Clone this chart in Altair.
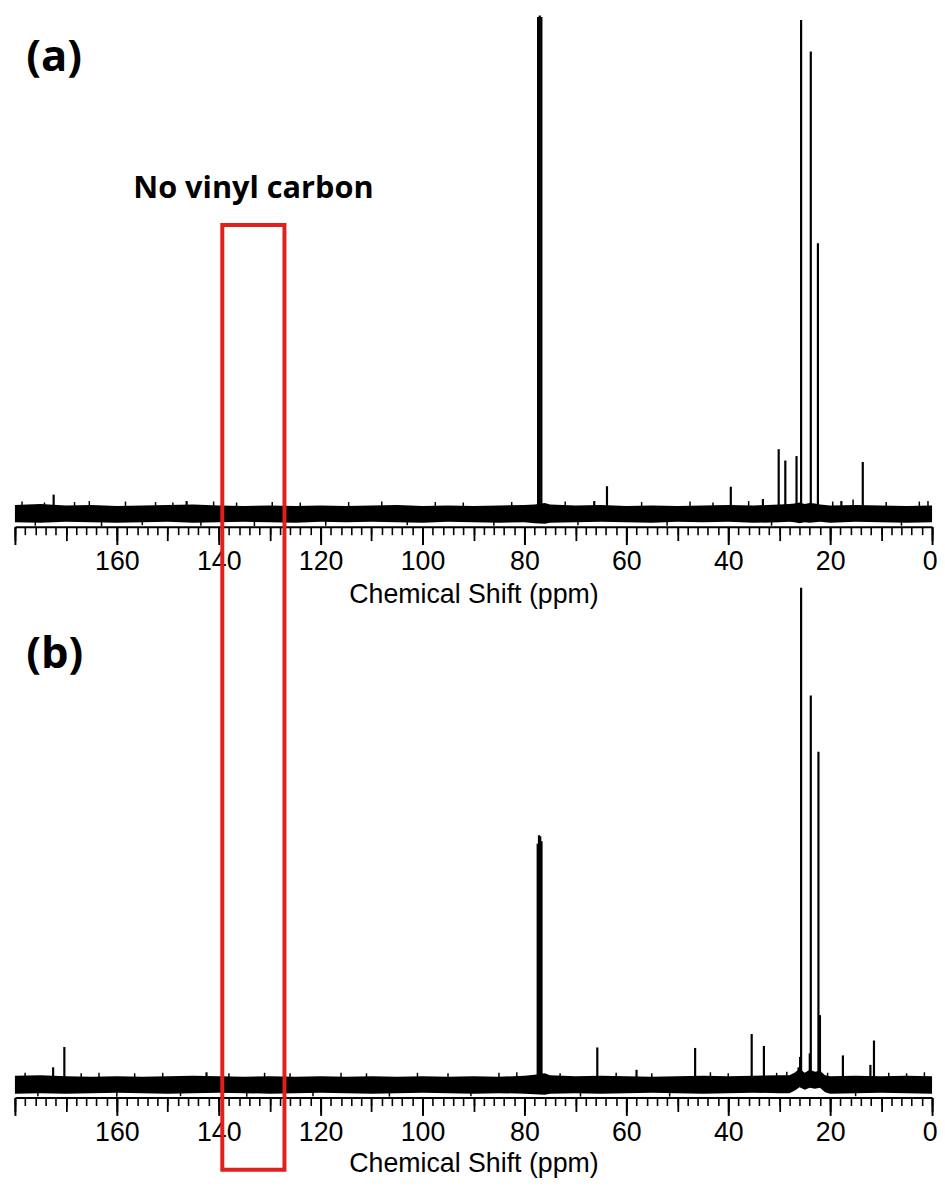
import altair as alt
import pandas as pd

# ---------------- axis ticks (ppm) ----------------
major_ticks = list(range(0, 181, 20))
mid_ticks = list(range(0, 181, 10))
minor_ticks = list(range(0, 181, 2))

# ---------------- baseline noise envelope ----------------
env_ppm = [180, 175, 170, 165, 160, 155, 150, 145, 140, 135, 130, 125, 120, 115, 110,
           105, 100, 95, 90, 85, 80, 78, 76, 75, 70, 65, 60, 55, 50, 45, 40, 35, 30,
           28, 27, 26, 25, 24, 23, 22, 21, 20, 15, 10, 5, 0]
a_upper = [1.8, 2.0, 1.7, 1.8, 1.6, 1.7, 1.8, 1.9, 1.7, 1.6, 1.7, 1.6, 1.7, 1.6, 1.7,
           1.8, 1.6, 1.7, 1.6, 1.7, 1.8, 1.9, 2.2, 1.9, 1.7, 1.8, 1.6, 1.7, 1.6, 1.7, 1.8, 1.7, 1.9,
           2.0, 2.1, 2.3, 2.0, 2.2, 2.1, 1.9, 1.8, 1.7, 1.8, 1.7, 1.6, 1.7]
a_lower = [-1.7, -1.8, -1.6, -1.7, -1.8, -1.7, -1.6, -1.8, -1.7, -1.6, -1.7, -1.8, -1.6, -1.7, -1.6,
           -1.7, -1.8, -1.6, -1.7, -1.8, -1.7, -1.9, -2.0, -1.8, -1.7, -1.6, -1.7, -1.8, -1.6, -1.7, -1.6, -1.8, -1.7,
           -1.6, -1.7, -1.9, -1.7, -1.8, -1.7, -1.6, -1.7, -1.8, -1.6, -1.7, -1.8, -1.7]
b_upper = [1.8, 1.9, 1.7, 1.6, 1.7, 1.6, 1.7, 1.8, 1.7, 1.6, 1.7, 1.6, 1.7, 1.6, 1.7,
           1.6, 1.7, 1.6, 1.7, 1.6, 1.8, 2.0, 2.3, 1.9, 1.7, 1.8, 1.7, 1.6, 1.7, 1.8, 1.7, 1.8, 1.9,
           1.9, 2.4, 3.2, 2.4, 3.0, 2.6, 2.8, 1.9, 1.7, 1.8, 1.7, 1.8, 1.7]
b_lower = [-1.8, -1.7, -1.8, -1.7, -1.6, -1.7, -1.8, -1.7, -1.6, -1.7, -1.8, -1.7, -1.6, -1.7, -1.8,
           -1.7, -1.6, -1.7, -1.8, -1.7, -1.8, -1.9, -2.0, -1.8, -1.7, -1.8, -1.7, -1.6, -1.7, -1.8, -1.7, -1.6, -1.7,
           -1.7, -1.2, -0.5, -1.0, -0.6, -0.8, -0.6, -1.5, -1.8, -1.7, -1.6, -1.7, -1.8]

# ---------------- resolved peaks (ppm, relative intensity) ----------------
peaks_a_ppm = [172.4, 146.3, 77.32, 77.0, 76.68, 66.3, 63.8, 39.5, 33.2, 30.1, 28.8,
               26.6, 25.7, 23.8, 22.4, 17.8, 13.6]
peaks_a_int = [3.9, 2.6, 100.6, 100.9, 100.6, 2.6, 5.6, 5.5, 3.0, 13.1, 10.8,
               11.7, 100.0, 93.6, 54.8, 2.6, 10.5]

peaks_b_ppm = [172.5, 170.3, 142.4, 77.4, 77.15, 76.9, 76.65, 65.7, 58.0, 46.5, 35.4, 33.0,
               26.2, 25.9, 25.7, 24.0, 23.8, 22.3, 22.0, 17.5, 12.1, 11.4]
peaks_b_int = [3.5, 7.6, 2.5, 48.5, 50.2, 50.0, 49.0, 7.5, 3.0, 7.4, 10.2, 7.8,
               3.5, 5.6, 100.0, 6.3, 78.3, 67.0, 14.0, 5.9, 4.0, 8.9]

# ---------------- noise spikes ----------------
spikes_a_ppm = [178.6, 176.0, 174.2, 168.3, 165.4, 163.0, 158.3, 155.0, 152.4, 149.0, 143.5,
                141.0, 136.5, 133.0, 129.5, 124.0, 119.0, 114.5, 108.0, 103.0, 97.5, 92.0,
                86.0, 82.5, 72.0, 69.5, 57.0, 52.0, 47.5, 43.0, 36.0, 31.5, 19.5, 15.5,
                9.0, 6.0, 2.5, 0.8]
spikes_a_int = [2.5, -2.4, 2.3, 2.4, 2.6, -2.5, 2.5, -2.3, 2.4, 2.3, -2.4,
                2.5, 2.3, -2.5, 2.4, 2.3, -2.4, 2.4, 2.5, -2.3, 2.4, 2.3,
                -2.4, 2.4, 2.5, -2.3, 2.4, -2.4, 2.5, 2.3, 2.6, -2.4, 2.5, 2.9,
                2.4, -2.4, 2.5, 2.6]
spikes_b_ppm = [178.0, 175.5, 167.0, 163.5, 160.0, 156.5, 151.0, 147.5, 138.0, 134.5, 131.0,
                126.0, 121.5, 116.0, 111.0, 106.5, 101.0, 95.0, 90.5, 85.0, 81.5, 73.0,
                69.0, 62.0, 55.0, 51.5, 43.5, 40.0, 30.5, 28.5, 20.5, 15.0, 8.5, 5.0, 1.5]
spikes_b_int = [2.4, -2.3, 2.3, 2.4, -2.4, 2.3, 2.4, -2.3, 2.3, -2.4, 2.4,
                2.3, -2.3, 2.4, 2.3, -2.4, 2.4, 2.3, -2.3, 2.4, 2.5, 2.3,
                -2.4, 2.4, 2.3, -2.4, 2.5, 2.3, 2.4, 2.6, 2.4, -2.3, 2.4, 2.3, 2.5]

# ---------------- annotations ----------------
box_ppm = [139.3, 127.1]          # red box edges
box_int_b = [173.0, -17.1]        # red box top / bottom in panel (b) intensity units
note_text = "No vinyl carbon"
note_pos = [133.2, 63.9]
label_a_pos = [177.8, 92.2]
label_b_pos = [177.8, 86.4]

W = 927
H_A = 517
H_B = 522
DOM_A = [-2.6, 100.94]
DOM_B = [-2.59, 101.33]
XDOM = [180, 0]

AXFONT = "Liberation Sans"
BOLD = "Open Sans"


def xs(axis):
    return alt.X("ppm:Q", scale=alt.Scale(domain=XDOM, nice=False, zero=False), axis=axis)


def make_panel(env_up, env_lo, pk_ppm, pk_int, sp_ppm, sp_int, ydom, height, title_y, extra):
    ys = alt.Scale(domain=ydom, nice=False, zero=False)
    noise = pd.DataFrame({"ppm": env_ppm, "up": env_up, "lo": env_lo})
    peaks = pd.DataFrame({"ppm": pk_ppm, "v": pk_int})
    spikes = pd.DataFrame({"ppm": sp_ppm, "v": sp_int})

    minor_axis = alt.Axis(values=minor_ticks, tickSize=8, tickWidth=1.6, tickColor="black",
                          labels=False, domain=True, domainWidth=2, domainColor="black",
                          grid=False, title=None, orient="bottom")
    mid_axis = alt.Axis(values=mid_ticks, tickSize=14, tickWidth=1.8, tickColor="black",
                        labels=False, domain=False, grid=False, title=None, orient="bottom")
    major_axis = alt.Axis(values=major_ticks, tickSize=18, tickWidth=2, tickColor="black",
                          labels=True, labelExpr="datum.value == 180 ? '' : datum.label",
                          labelFont=AXFONT, labelFontSize=27, labelColor="black",
                          labelPadding=4, labelFlush=True, labelFlushOffset=5,
                          labelOverlap=False,
                          domain=False, grid=False, orient="bottom",
                          title="Chemical Shift (ppm)", titleFont=AXFONT, titleFontSize=27,
                          titleFontWeight="normal", titleColor="black", titleY=title_y,
                          titleBaseline="middle")

    band = alt.Chart(noise).mark_area(color="black", interpolate="linear").encode(
        x=xs(minor_axis),
        y=alt.Y("up:Q", scale=ys, axis=None),
        y2="lo:Q",
    )
    lines = alt.Chart(peaks).mark_rule(color="black", strokeWidth=2.2).encode(
        x=xs(mid_axis),
        y=alt.Y("v:Q", scale=ys, axis=None),
        y2=alt.datum(0),
    )
    noise_sp = alt.Chart(spikes).mark_rule(color="black", strokeWidth=1.5).encode(
        x=xs(major_axis),
        y=alt.Y("v:Q", scale=ys, axis=None),
        y2=alt.datum(0),
    )
    layers = [band, lines, noise_sp] + [e(ys) for e in extra]
    return alt.layer(*layers).resolve_axis(x="independent").properties(width=W, height=height)


def label_layer(text, pos, size):
    def f(ys):
        df = pd.DataFrame({"ppm": [pos[0]], "v": [pos[1]], "t": [text]})
        return alt.Chart(df).mark_text(align="left", baseline="middle", font=BOLD,
                                       fontWeight="bold", fontSize=size, color="black").encode(
            x=xs(None), y=alt.Y("v:Q", scale=ys, axis=None), text="t:N")
    return f


def note_layer(ys):
    df = pd.DataFrame({"ppm": [note_pos[0]], "v": [note_pos[1]], "t": [note_text]})
    return alt.Chart(df).mark_text(align="center", baseline="alphabetic", font=BOLD,
                                   fontWeight="bold", fontSize=31, color="black").encode(
        x=xs(None), y=alt.Y("v:Q", scale=ys, axis=None), text="t:N")


def box_layer(ys):
    df = pd.DataFrame({"ppm": [box_ppm[0]], "ppm2": [box_ppm[1]],
                       "v": [box_int_b[0]], "v2": [box_int_b[1]]})
    return alt.Chart(df).mark_rect(fillOpacity=0, stroke="#e0201c", strokeWidth=4).encode(
        x=xs(None), x2="ppm2:Q", y=alt.Y("v:Q", scale=ys, axis=None), y2="v2:Q")


panel_a = make_panel(a_upper, a_lower, peaks_a_ppm, peaks_a_int, spikes_a_ppm, spikes_a_int,
                     DOM_A, H_A, 69, [label_layer("(a)", label_a_pos, 44), note_layer])
panel_b = make_panel(b_upper, b_lower, peaks_b_ppm, peaks_b_int, spikes_b_ppm, spikes_b_int,
                     DOM_B, H_B, 67, [label_layer("(b)", label_b_pos, 44), box_layer])

chart = alt.vconcat(panel_a, panel_b, spacing=55, bounds="flush").configure(
    padding={"left": 2, "top": 0, "right": 0, "bottom": 0},
    background="white",
).configure_view(stroke=None)

chart.save("out.html", embed_options={"renderer": "svg", "actions": False})
